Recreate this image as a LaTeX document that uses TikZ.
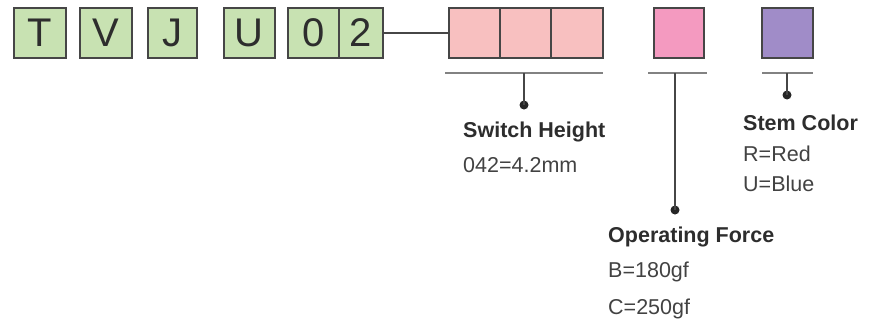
\documentclass[tikz,border=0pt]{standalone}
\usepackage{fontspec}
\setmainfont{Liberation Sans}
\definecolor{gfill}{RGB}{200,226,178}
\definecolor{pfill}{RGB}{248,192,192}
\definecolor{mfill}{RGB}{244,154,192}
\definecolor{vfill}{RGB}{160,140,200}
\definecolor{bord}{RGB}{70,70,70}
\definecolor{ulc}{RGB}{130,130,130}
\definecolor{txt}{RGB}{45,45,45}
\tikzset{
  letterbox/.style={draw=bord, line width=1.5pt, inner sep=0pt, anchor=north west,
    minimum height=50pt, fill=gfill, text=txt, font=\fontsize{40}{40}\selectfont},
  colbox/.style={draw=bord, line width=1.5pt, inner sep=0pt, anchor=north west,
    minimum height=50pt},
  uline/.style={draw=ulc, line width=2pt},
  stem/.style={draw=bord, line width=1.7pt},
  dotnode/.style={circle, fill=black!85, inner sep=0pt, minimum size=9pt},
  title/.style={anchor=base west, inner sep=0pt, text=txt, font=\bfseries\fontsize{21.5}{24}\selectfont},
  val/.style={anchor=base west, inner sep=0pt, text=txt!90, font=\fontsize{21.5}{24}\selectfont},
}
\begin{document}
\begin{tikzpicture}[x=1pt,y=-1pt]
\useasboundingbox (0,0) rectangle (872,327);
% letter boxes
\node[letterbox, minimum width=52pt] (bT) at (13,7) {T};
\node[letterbox, minimum width=52pt] (bV) at (79,7) {V};
\node[letterbox, minimum width=49pt] (bJ) at (147,7) {J};
\node[letterbox, minimum width=51pt] (bU) at (223,7) {U};
\node[letterbox, minimum width=51pt] (b0) at (287,7) {0};
\node[letterbox, minimum width=44pt] (b2) at (338,7) {2};
% switch height boxes
\node[colbox, fill=pfill, minimum width=51pt] (p1) at (448,7) {};
\node[colbox, fill=pfill, minimum width=51pt] (p2) at (499,7) {};
\node[colbox, fill=pfill, minimum width=52pt] (p3) at (550,7) {};
\node[colbox, fill=mfill, minimum width=50pt] (mB) at (653,7) {};
\node[colbox, fill=vfill, minimum width=51pt] (vB) at (761,7) {};
\draw[stem] (b2.east) -- (p1.west);
% underlines
\coordinate (u1a) at (445,73); \coordinate (u1b) at (603,73);
\coordinate (u2a) at (648,73); \coordinate (u2b) at (707,73);
\coordinate (u3a) at (762,73); \coordinate (u3b) at (813,73);
\draw[uline] (u1a) -- (u1b);
\draw[uline] (u2a) -- (u2b);
\draw[uline] (u3a) -- (u3b);
\coordinate (s1) at (524,73);
\coordinate (s2) at (675,73);
\coordinate (s3) at (787,73);
\node[dotnode] (d1) at (524,105) {};
\node[dotnode] (d2) at (675,210) {};
\node[dotnode] (d3) at (787,95) {};
\draw[stem] (s1) -- (d1.center);
\draw[stem] (s2) -- (d2.center);
\draw[stem] (s3) -- (d3.center);
% labels
\node[title] (t1) at (463,137) {Switch Height};
\node[val] (v1) at (463,172) {042=4.2mm};
\node[title] (t3) at (743,130) {Stem Color};
\node[val] (v3a) at (743,161) {R=Red};
\node[val] (v3b) at (743,191) {U=Blue};
\node[title] (t2) at (608,242) {Operating Force};
\node[val] (v2a) at (608,277) {B=180gf};
\node[val] (v2b) at (608,314) {C=250gf};
\end{tikzpicture}
\end{document}
